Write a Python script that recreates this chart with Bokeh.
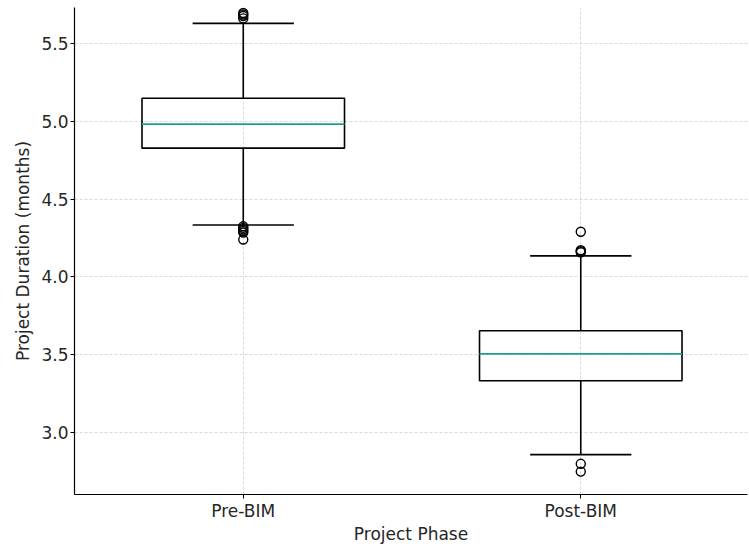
from bokeh.plotting import figure
from bokeh.models import Range1d, FixedTicker
from bokeh.embed import file_html
from bokeh.resources import INLINE

# Project duration summary per phase (months)
phases = ["Pre-BIM", "Post-BIM"]
positions = [1, 2]
q1 = [4.827, 3.333]
median = [4.981, 3.506]
q3 = [5.147, 3.654]
whisker_low = [4.333, 2.859]
whisker_high = [5.628, 4.135]

# Points outside the whiskers
outlier_phase = [1, 1, 1, 1, 1, 1, 1, 1, 1, 1,
                 2, 2, 2, 2, 2, 2]
outlier_value = [5.66, 5.675, 5.685, 5.695, 4.325, 4.315, 4.305, 4.295, 4.285, 4.24,
                 4.158, 4.165, 4.172, 4.29, 2.80, 2.75]

y_ticks = [3.0, 3.5, 4.0, 4.5, 5.0, 5.5]

FONT = "DejaVu Sans"
TEXT = "#262626"
box_w = 0.6
cap_w = 0.3

p = figure(width=749, height=546, output_backend="svg", toolbar_location=None,
           x_range=Range1d(0.5, 2.494), y_range=Range1d(2.603, 5.73),
           min_border_left=74, min_border_right=2, min_border_top=7,
           min_border_bottom=51, outline_line_color=None,
           x_axis_label="Project Phase", y_axis_label="Project Duration (months)")

# boxes
p.quad(left=[x - box_w / 2 for x in positions], right=[x + box_w / 2 for x in positions],
       bottom=q1, top=q3, fill_color=None, line_color="black", line_width=1.6)
# whiskers
p.segment(x0=positions, x1=positions, y0=q3, y1=whisker_high, line_color="black", line_width=1.6)
p.segment(x0=positions, x1=positions, y0=q1, y1=whisker_low, line_color="black", line_width=1.6)
# caps
p.segment(x0=[x - cap_w / 2 for x in positions], x1=[x + cap_w / 2 for x in positions],
          y0=whisker_high, y1=whisker_high, line_color="black", line_width=1.6)
p.segment(x0=[x - cap_w / 2 for x in positions], x1=[x + cap_w / 2 for x in positions],
          y0=whisker_low, y1=whisker_low, line_color="black", line_width=1.6)
# medians
p.segment(x0=[x - box_w / 2 for x in positions], x1=[x + box_w / 2 for x in positions],
          y0=median, y1=median, line_color="#1f9e89", line_width=1.8)
# outliers
p.scatter(outlier_phase, outlier_value, marker="circle", size=9, fill_color=None,
          line_color="black", line_width=1.4)

p.xaxis.ticker = FixedTicker(ticks=positions)
p.xaxis.major_label_overrides = {x: name for x, name in zip(positions, phases)}
p.yaxis.ticker = FixedTicker(ticks=y_ticks)
p.yaxis.major_label_overrides = {v: f"{v:.1f}" for v in y_ticks}

for ax in (p.xaxis, p.yaxis):
    ax.axis_line_color = "black"
    ax.axis_line_width = 1.2
    ax.major_tick_line_color = "black"
    ax.major_tick_line_width = 1.0
    ax.major_tick_out = 4
    ax.major_tick_in = 0
    ax.minor_tick_line_color = None
    ax.major_label_text_font = FONT
    ax.major_label_text_font_size = "17px"
    ax.major_label_text_color = TEXT
    ax.axis_label_text_font = FONT
    ax.axis_label_text_font_size = "17px"
    ax.axis_label_text_font_style = "normal"
    ax.axis_label_text_color = TEXT

p.xaxis.major_label_standoff = 2
p.xaxis.axis_label_standoff = 0
p.yaxis.major_label_standoff = 2
p.yaxis.axis_label_standoff = 5

p.grid.grid_line_color = "#cfcfcf"
p.grid.grid_line_dash = "3 2"
p.grid.grid_line_width = 0.8

open("out.html", "w").write(file_html(p, INLINE))
